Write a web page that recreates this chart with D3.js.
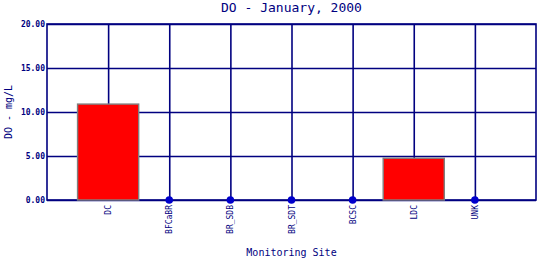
<!DOCTYPE html>
<html>
<head>
<meta charset="utf-8">
<script src="https://cdn.jsdelivr.net/npm/d3@7"></script>
<style>
  body { margin: 0; background: #fff; }
  text { font-family: "DejaVu Sans Mono", monospace; fill: #000080; }
</style>
</head>
<body>
<div id="canvas"></div>
<script>
"use strict"

let svgWidth = 540
let svgHeight = 260
let plotLeft = 47
let plotRight = 536
let plotTop = 24
let plotBottom = 200

/* data */
let sites = ["DC", "BFCaBR", "BR_SDB", "BR_SDT", "BCSC", "LDC", "UNK"]
let doValues = [10.9, 0, 0, 0, 0, 4.75, 0]
let yTicks = [0, 5, 10, 15, 20]

let gridColor = "#000080"
let gridWidth = 1.6

let svg = d3.select("#canvas")
    .append("svg")
    .attr("width", svgWidth)
    .attr("height", svgHeight)

/* scales */
let xScale = d3.scalePoint()
    .domain(sites)
    .range([plotLeft, plotRight])
    .padding(1)

let yScale = d3.scaleLinear()
    .domain([0, 20])
    .range([plotBottom, plotTop])

let step = xScale.step()

/* horizontal grid + y labels */
let yAxis = d3.axisLeft(yScale)
    .tickValues(yTicks)
    .tickFormat(d3.format(".2f"))
    .tickSizeInner(-(plotRight - plotLeft))
    .tickSizeOuter(0)
    .tickPadding(2)

let yG = svg.append("g")
    .attr("transform", "translate(" + plotLeft + ",0)")
    .call(yAxis)
yG.select(".domain").remove()
yG.selectAll("line").attr("stroke", gridColor).attr("stroke-width", gridWidth)
yG.selectAll("text")
    .style("font-size", "8px")
    .style("font-weight", "bold")
    .attr("fill", gridColor)

/* vertical grid + site labels */
let xAxis = d3.axisBottom(xScale)
    .tickSizeInner(-(plotBottom - plotTop))
    .tickSizeOuter(0)
    .tickPadding(0)

let xG = svg.append("g")
    .attr("transform", "translate(0," + plotBottom + ")")
    .call(xAxis)
xG.select(".domain").remove()
xG.selectAll("line").attr("stroke", gridColor).attr("stroke-width", gridWidth)
xG.selectAll("text")
    .style("font-size", "8px")
    .attr("fill", gridColor)
    .attr("text-anchor", "end")
    .attr("transform", "rotate(-90)")
    .attr("x", -5)
    .attr("y", 0)
    .attr("dy", "0.32em")

/* plot frame */
svg.append("rect")
    .attr("x", plotLeft)
    .attr("y", plotTop)
    .attr("width", plotRight - plotLeft)
    .attr("height", plotBottom - plotTop)
    .attr("fill", "none")
    .attr("stroke", gridColor)
    .attr("stroke-width", gridWidth)

/* bars for non-zero values */
svg.selectAll("rect.bar")
    .data(sites.filter(function (d, i) { return doValues[i] > 0 }))
    .join("rect")
    .attr("class", "bar")
    .attr("x", function (d) { return xScale(d) - step / 2 })
    .attr("y", function (d) { return yScale(doValues[sites.indexOf(d)]) })
    .attr("width", step)
    .attr("height", function (d) { return plotBottom - yScale(doValues[sites.indexOf(d)]) })
    .attr("fill", "#ff0000")
    .attr("stroke", "#808080")
    .attr("stroke-width", 1.4)

/* dots for zero values */
svg.selectAll("circle.zero")
    .data(sites.filter(function (d, i) { return doValues[i] === 0 }))
    .join("circle")
    .attr("class", "zero")
    .attr("cx", function (d) { return xScale(d) })
    .attr("cy", yScale(0))
    .attr("r", 3.8)
    .attr("fill", "#0000cc")

/* titles */
svg.append("text")
    .attr("x", (plotLeft + plotRight) / 2)
    .attr("y", 12)
    .attr("text-anchor", "middle")
    .style("font-size", "13px")
    .text("DO - January, 2000")

svg.append("text")
    .attr("x", (plotLeft + plotRight) / 2)
    .attr("y", 256)
    .attr("text-anchor", "middle")
    .style("font-size", "10px")
    .text("Monitoring Site")

svg.append("text")
    .attr("x", -(plotTop + plotBottom) / 2)
    .attr("y", 12)
    .attr("text-anchor", "middle")
    .attr("transform", "rotate(-90)")
    .style("font-size", "10px")
    .text("DO - mg/L")
</script>
</body>
</html>
